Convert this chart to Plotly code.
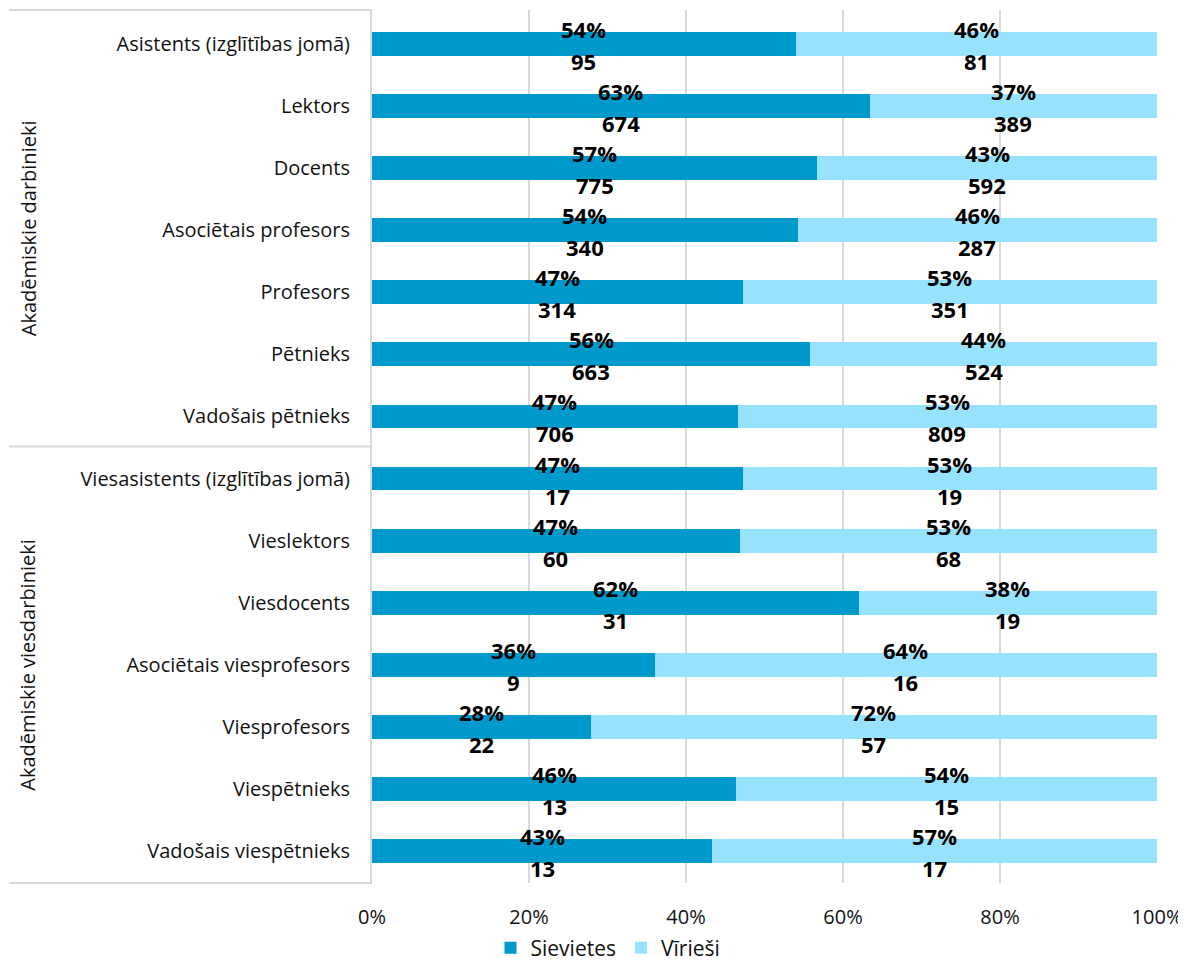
import plotly.graph_objects as go

categories = [
    "Asistents (izglītības jomā)", "Lektors", "Docents", "Asociētais profesors",
    "Profesors", "Pētnieks", "Vadošais pētnieks",
    "Viesasistents (izglītības jomā)", "Vieslektors", "Viesdocents",
    "Asociētais viesprofesors", "Viesprofesors", "Viespētnieks", "Vadošais viespētnieks",
]
women_n = [95, 674, 775, 340, 314, 663, 706, 17, 60, 31, 9, 22, 13, 13]
men_n = [81, 389, 592, 287, 351, 524, 809, 19, 68, 19, 16, 57, 15, 17]
women_pct = [54, 63, 57, 54, 47, 56, 47, 47, 47, 62, 36, 28, 46, 43]
men_pct = [46, 37, 43, 46, 53, 44, 53, 53, 53, 38, 64, 72, 54, 57]
groups = ["Akadēmiskie darbinieki", "Akadēmiskie viesdarbinieki"]
x_ticks = [0, 20, 40, 60, 80, 100]
x_ticklabels = ["0%", "20%", "40%", "60%", "80%", "100%"]

DARK = "#0099CC"
LIGHT = "#97E3FE"
FONT = "Open Sans"

fig = go.Figure()
fig.add_trace(go.Bar(y=categories, x=women_n, name="Sievietes", orientation="h",
                     marker=dict(color=DARK, line=dict(width=0)), hoverinfo="skip"))
fig.add_trace(go.Bar(y=categories, x=men_n, name="Vīrieši", orientation="h",
                     marker=dict(color=LIGHT, line=dict(width=0)), hoverinfo="skip"))

annotations = []
for cat, wn, mn, wp, mp in zip(categories, women_n, men_n, women_pct, men_pct):
    share = wn / (wn + mn) * 100
    for xm, pct, n in ((share / 2, wp, wn), (share + (100 - share) / 2, mp, mn)):
        annotations.append(dict(x=xm, y=cat, xref="x", yref="y", text=f"{pct}%",
                                showarrow=False, yshift=15,
                                font=dict(family=FONT, size=22, color="#000000", weight="bold")))
        annotations.append(dict(x=xm, y=cat, xref="x", yref="y", text=f"{n}",
                                showarrow=False, yshift=-17,
                                font=dict(family=FONT, size=22, color="#000000", weight="bold")))

# group labels
gx = (28 - 372) / 785
for i, g in enumerate(groups):
    annotations.append(dict(x=gx, y=0.75 - 0.5 * i, xref="paper", yref="paper", text=g,
                            textangle=-90, showarrow=False, xanchor="center", yanchor="middle",
                            font=dict(family=FONT, size=20, color="#111111")))

sx0 = (9 - 372) / 785
shapes = [dict(type="line", xref="paper", yref="paper", x0=sx0, x1=0, y0=yy, y1=yy,
               line=dict(color="#D9D9D9", width=2)) for yy in (1, 0.5, 0)]

# page has an 8px body margin; figure sized/offset to compensate
fig.update_layout(
    width=1178, height=960,
    margin=dict(l=364, r=29, t=2, b=85, autoexpand=False),
    barmode="stack", barnorm="percent", bargap=0.615,
    plot_bgcolor="white", paper_bgcolor="white",
    font=dict(family=FONT, size=20, color="#111111"),
    annotations=annotations, shapes=shapes,
    legend=dict(orientation="h", x=(608 - 372) / 785, xanchor="center",
                y=(883 - 948) / 873, yanchor="middle", font=dict(size=21),
                traceorder="normal"),
    showlegend=True,
)
fig.update_xaxes(range=[0, 100], tickmode="array", tickvals=x_ticks, ticktext=x_ticklabels,
                 showgrid=True, automargin=False,
                 gridcolor="#D9D9D9", gridwidth=2, zeroline=False, showline=False,
                 ticks="", ticklabelstandoff=20, tickfont=dict(size=20, color="#111111"),
                 fixedrange=True)
fig.update_yaxes(autorange="reversed", showgrid=False, zeroline=False, showline=True,
                 automargin=False,
                 linecolor="#D9D9D9", linewidth=2, ticks="", ticklabelstandoff=16,
                 tickfont=dict(size=20, color="#111111"), fixedrange=True)

fig.write_html("out.html")
